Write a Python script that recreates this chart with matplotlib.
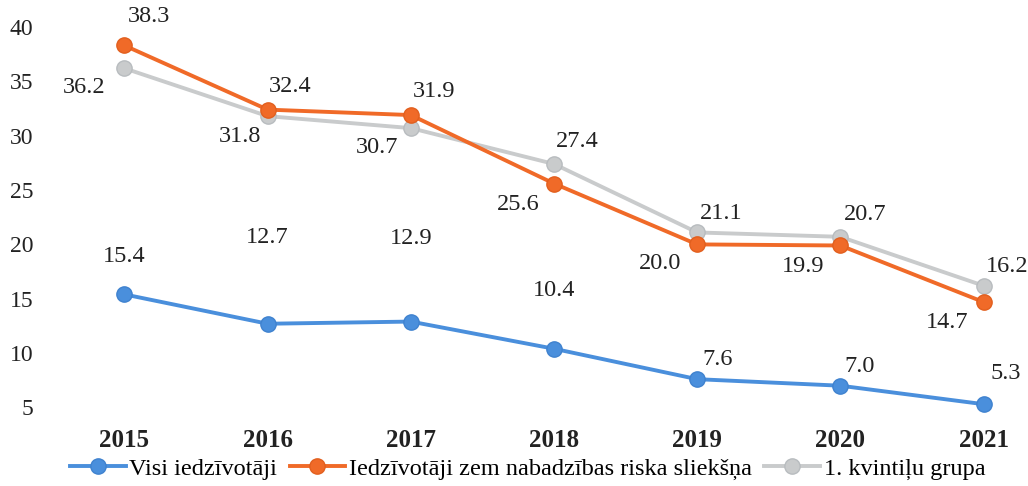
import matplotlib
matplotlib.use("Agg")
import matplotlib.pyplot as plt

years = ["2015", "2016", "2017", "2018", "2019", "2020", "2021"]
visi = [15.4, 12.7, 12.9, 10.4, 7.6, 7.0, 5.3]
zem_riska = [38.3, 32.4, 31.9, 25.6, 20.0, 19.9, 14.7]
kvintile1 = [36.2, 31.8, 30.7, 27.4, 21.1, 20.7, 16.2]
series_names = ["Visi iedzīvotāji", "Iedzīvotāji zem nabadzības riska sliekšņa", "1. kvintiļu grupa"]
yticks = [5, 10, 15, 20, 25, 30, 35, 40]

# label offsets in points (style)
off_visi = [(0, 27), (0, 62), (0, 60), (0, 42), (15, 14), (14, 14), (16, 22)]
off_zem = [(18, 21), (16, 17), (17, 17), (-26, -15), (-27, -14), (-27, -15), (-26, -15)]
off_kv = [(-29, -14), (-20, -15), (-24, -14), (17, 16), (17, 14), (18, 16), (17, 14)]

plt.rcParams['font.family'] = ['Liberation Serif', 'DejaVu Serif']
fig = plt.figure(figsize=(10.28, 4.86), dpi=100)
ax = fig.add_axes([50/1028, 0.146, 965/1028, 0.823])

x = list(range(len(years)))
cols = ["#4A8FDC", "#F06A28", "#C9CBCC"]
edges = ["#3F82CF", "#E25F1E", "#B8BCBF"]
data = [visi, zem_riska, kvintile1]
offs = [off_visi, off_zem, off_kv]
order = [0, 2, 1]
lines = {}
for i in order:
    ln, = ax.plot(x, data[i], color=cols[i], lw=2.8, marker='o', ms=11,
                  markerfacecolor=cols[i], markeredgecolor=edges[i], mew=1,
                  label=series_names[i], zorder=3 if i == 1 else 2)
    lines[i] = ln
    for xi, v, o in zip(x, data[i], offs[i]):
        ax.annotate(f"{v:.1f}", (xi, v), xytext=o, textcoords='offset points',
                    ha='center', va='center', fontsize=17.5, color='#222222')

ax.set_xlim(-0.52, 6.22)
ax.set_ylim(4.3, 41.1)
ax.set_yticks(yticks)
ax.set_xticks(x)
ax.set_xticklabels(years, fontweight='bold')
ax.tick_params(axis='y', length=0, labelsize=17, colors='#222222', pad=12)
ax.tick_params(axis='x', length=0, labelsize=18, colors='#222222', pad=10)
for s in ax.spines.values():
    s.set_visible(False)

leg = ax.legend([lines[0], lines[1], lines[2]], series_names, loc='upper center',
                bbox_to_anchor=(0.495, -0.083), ncol=3, frameon=False,
                prop={'family': 'Liberation Serif', 'size': 17.5},
                handlelength=2.3, handletextpad=0.15, columnspacing=0.5, borderaxespad=0)

fig.savefig("out.png", dpi=100)
